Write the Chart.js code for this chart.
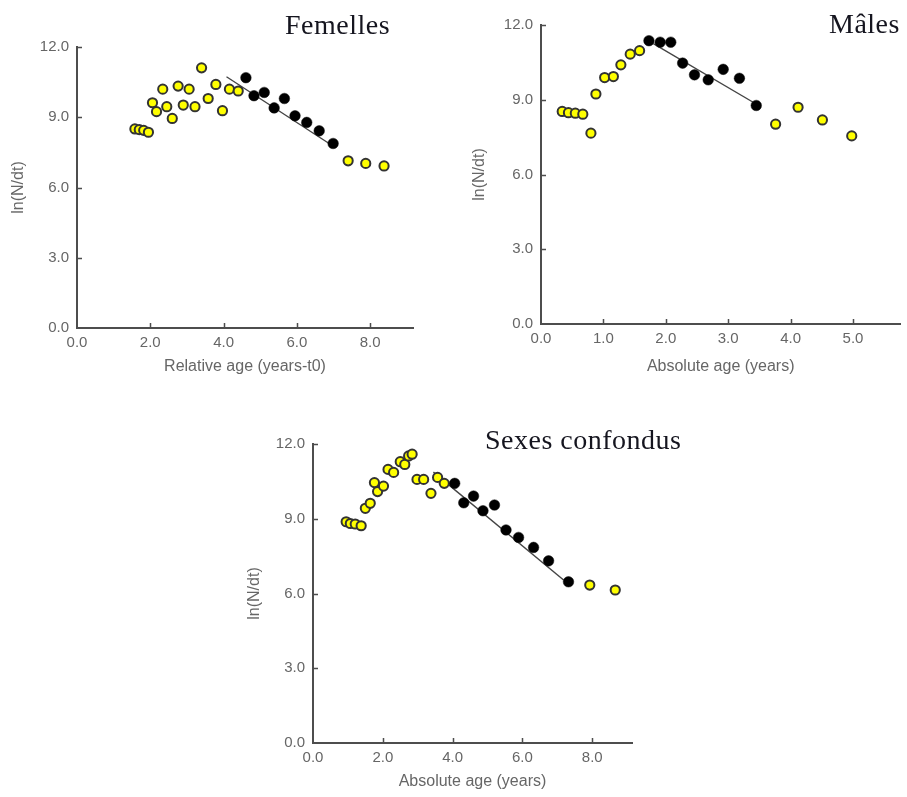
<!DOCTYPE html>
<html>
<head>
<meta charset="utf-8">
<script src="https://cdn.jsdelivr.net/npm/chart.js@4.4.1/dist/chart.umd.min.js"></script>
<style>
  body { margin: 0; background: #fff; width: 907px; height: 797px; position: relative; overflow: hidden; }
  canvas { position: absolute; }
  .ttl { position: absolute; font-family: "Liberation Serif", "Times New Roman", serif; font-size: 28px;
         line-height: 28px; letter-spacing: 0.5px; color: #15151f; white-space: nowrap; }
</style>
</head>
<body>
<canvas id="fem" width="460" height="385" style="left:0;top:0"></canvas>
<canvas id="mal" width="447" height="385" style="left:460px;top:0"></canvas>
<canvas id="sex" width="410" height="382" style="left:230px;top:415px"></canvas>
<div class="ttl" style="left:285px;top:11px">Femelles</div>
<div class="ttl" style="left:829px;top:10px">Mâles</div>
<div class="ttl" style="left:485px;top:426px">Sexes confondus</div>
<script>
// tick labels
var yTicks = [0, 3, 6, 9, 12];
var femXTicks = [0, 2, 4, 6, 8];
var malXTicks = [0, 1, 2, 3, 4, 5];
var sexXTicks = [0, 2, 4, 6, 8];

// Femelles
var femYellowX = [1.58, 1.70, 1.82, 1.95, 2.06, 2.17, 2.34, 2.45, 2.60, 2.76, 2.90, 3.06, 3.22, 3.40, 3.58, 3.79, 3.97, 4.16, 4.40, 7.40, 7.88, 8.38];
var femYellowY = [8.50, 8.47, 8.44, 8.36, 9.62, 9.24, 10.20, 9.45, 8.95, 10.33, 9.52, 10.20, 9.45, 11.11, 9.80, 10.40, 9.28, 10.20, 10.12, 7.14, 7.03, 6.92];
var femBlackX = [4.61, 4.83, 5.11, 5.38, 5.66, 5.95, 6.27, 6.61, 6.99];
var femBlackY = [10.69, 9.92, 10.06, 9.40, 9.80, 9.06, 8.78, 8.42, 7.88];
var femLineX = [4.08, 6.88];
var femLineY = [10.73, 7.88];

// Mâles
var malYellowX = [0.34, 0.44, 0.55, 0.67, 0.80, 0.88, 1.02, 1.16, 1.28, 1.43, 1.58, 3.76, 4.12, 4.51, 4.98];
var malYellowY = [8.53, 8.48, 8.46, 8.42, 7.66, 9.23, 9.89, 9.93, 10.40, 10.83, 10.97, 8.02, 8.70, 8.19, 7.55];
var malBlackX = [1.73, 1.91, 2.08, 2.27, 2.46, 2.68, 2.92, 3.18, 3.45];
var malBlackY = [11.37, 11.31, 11.31, 10.47, 10.00, 9.80, 10.22, 9.86, 8.77];
var malLineX = [1.80, 3.40];
var malLineY = [11.25, 8.90];

// Sexes confondus
var sexYellowX = [0.95, 1.07, 1.21, 1.38, 1.50, 1.64, 1.76, 1.85, 2.02, 2.15, 2.31, 2.50, 2.63, 2.74, 2.84, 2.98, 3.17, 3.38, 3.57, 3.76, 7.93, 8.66];
var sexYellowY = [8.88, 8.81, 8.79, 8.72, 9.42, 9.62, 10.45, 10.09, 10.31, 10.98, 10.86, 11.29, 11.18, 11.52, 11.59, 10.58, 10.58, 10.02, 10.66, 10.42, 6.34, 6.14];
var sexBlackX = [4.06, 4.32, 4.60, 4.87, 5.20, 5.53, 5.89, 6.32, 6.75, 7.32];
var sexBlackY = [10.42, 9.64, 9.91, 9.32, 9.55, 8.55, 8.25, 7.85, 7.31, 6.47];
var sexLineX = [3.45, 7.18];
var sexLineY = [10.87, 6.54];

var axisColor = '#4d4d4d';
var labelColor = '#666';
var sans = '"Liberation Sans", Arial, sans-serif';

function pts(xs, ys) {
    return xs.map(function(x, i) { return {x: x, y: ys[i]}; });
}

// small tick marks pointing into the plot
var innerTicks = {
    id: 'innerTicks',
    beforeDatasetsDraw: function(chart) {
        var ctx = chart.ctx, area = chart.chartArea;
        var sx = chart.scales.x, sy = chart.scales.y;
        ctx.save();
        ctx.strokeStyle = axisColor;
        ctx.lineWidth = 1.5;
        ctx.beginPath();
        sx.ticks.forEach(function(t) {
            if (t.value === sx.min) return;
            var px = Math.round(sx.getPixelForValue(t.value)) + 0.5;
            ctx.moveTo(px, area.bottom);
            ctx.lineTo(px, area.bottom - 5);
        });
        sy.ticks.forEach(function(t) {
            if (t.value === sy.min) return;
            var py = Math.round(sy.getPixelForValue(t.value)) + 0.5;
            ctx.moveTo(area.left, py);
            ctx.lineTo(area.left + 5, py);
        });
        ctx.stroke();
        ctx.restore();
    }
};

function panel(id, o) {
    return new Chart(document.getElementById(id), {
        type: 'scatter',
        data: {
            datasets: [
                {data: pts(o.bx, o.by), backgroundColor: '#000', borderColor: '#111', pointRadius: 5.3, borderWidth: 0.5, order: 1},
                {data: pts(o.yx, o.yy), backgroundColor: '#ffff00', borderColor: '#333', pointRadius: 4.6, borderWidth: 2, order: 2},
                {data: pts(o.lx, o.ly), showLine: true, pointRadius: 0, borderColor: '#444', borderWidth: 1.4, order: 3}
            ]
        },
        plugins: [innerTicks],
        options: {
            responsive: false,
            animation: false,
            events: [],
            layout: {padding: {top: o.top, right: o.right, left: 0, bottom: 0}},
            plugins: {legend: {display: false}, tooltip: {enabled: false}},
            scales: {
                x: {
                    type: 'linear', min: 0, max: o.xmax,
                    afterFit: function(s) { s.height = o.xh; },
                    afterBuildTicks: function(s) { s.ticks = o.xticks.map(function(v) { return {value: v}; }); },
                    grid: {display: false, drawTicks: false},
                    border: {color: axisColor, width: 2},
                    ticks: {padding: 6, color: labelColor, font: {size: 15, family: sans}, maxRotation: 0, autoSkip: false,
                            callback: function(v) { return Number(v).toFixed(1); }},
                    title: {display: true, text: o.xtitle, color: labelColor, font: {size: 16, family: sans},
                            padding: {top: 0, bottom: o.xtp}}
                },
                y: {
                    type: 'linear', min: 0, max: 12,
                    afterFit: function(s) { s.width = o.yw; },
                    afterBuildTicks: function(s) { s.ticks = yTicks.map(function(v) { return {value: v}; }); },
                    grid: {display: false, drawTicks: false},
                    border: {color: axisColor, width: 2},
                    ticks: {padding: 8, color: labelColor, font: {size: 15, family: sans}, autoSkip: false,
                            callback: function(v) { return Number(v).toFixed(1); }},
                    title: {display: true, text: 'ln(N/dt)', color: labelColor, font: {size: 16, family: sans},
                            padding: {top: o.ytp, bottom: 0}}
                }
            }
        }
    });
}

panel('fem', {yx: femYellowX, yy: femYellowY, bx: femBlackX, by: femBlackY, lx: femLineX, ly: femLineY,
    xticks: femXTicks, xmax: 9.17, xtitle: 'Relative age (years-t0)',
    top: 47, right: 47, yw: 77, xh: 57, xtp: 8.7, ytp: 9.4});
panel('mal', {yx: malYellowX, yy: malYellowY, bx: malBlackX, by: malBlackY, lx: malLineX, ly: malLineY,
    xticks: malXTicks, xmax: 5.76, xtitle: 'Absolute age (years)',
    top: 25, right: 6, yw: 81, xh: 61, xtp: 8.7, ytp: 10.4});
panel('sex', {yx: sexYellowX, yy: sexYellowY, bx: sexBlackX, by: sexBlackY, lx: sexLineX, ly: sexLineY,
    xticks: sexXTicks, xmax: 9.14, xtitle: 'Absolute age (years)',
    top: 29, right: 8, yw: 83, xh: 54, xtp: 5.7, ytp: 15.4});
</script>
</body>
</html>
